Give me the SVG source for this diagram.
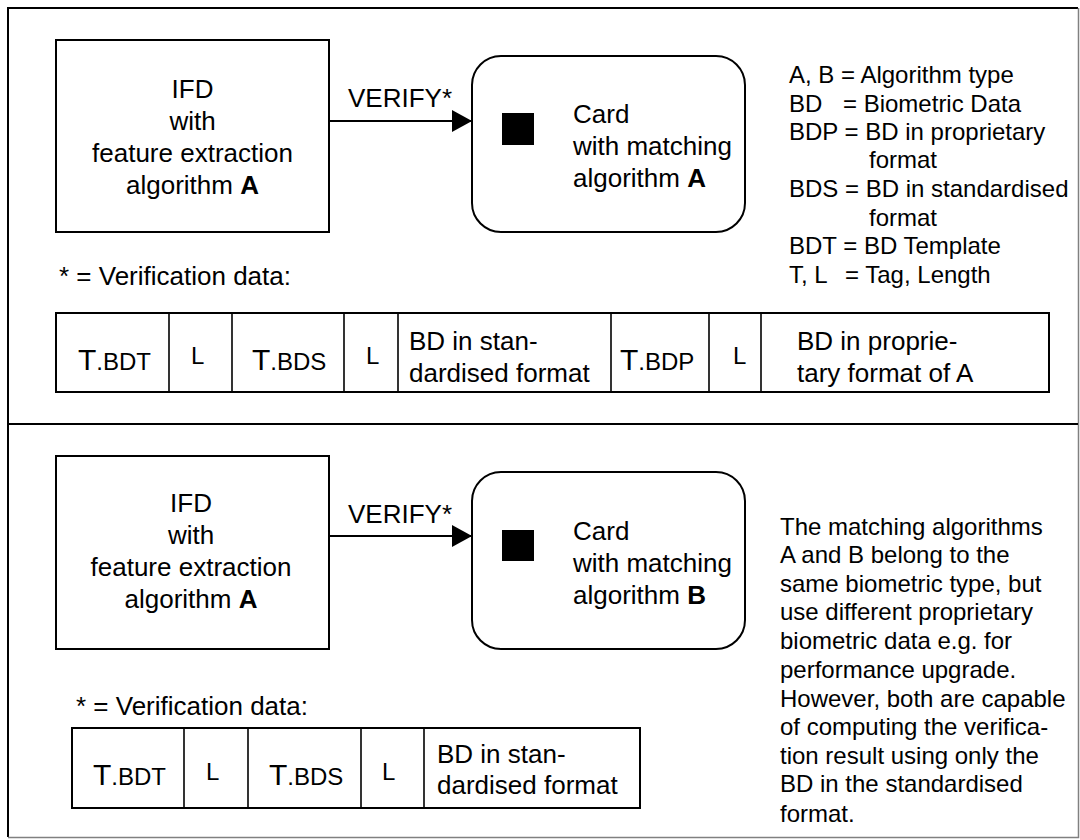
<svg xmlns="http://www.w3.org/2000/svg" width="1080" height="840" viewBox="0 0 1080 840">
<defs>
<style>
text{font-family:"Liberation Sans",Arial,sans-serif;fill:#000}
.t26{font-size:26px}
.t24{font-size:24px}
.mid{text-anchor:middle}
.box{fill:#fff;stroke:#000;stroke-width:2}
.cell{fill:none;stroke:#000;stroke-width:2}
.div{stroke:#000;stroke-width:1.6}
.b{font-weight:bold}
.bigT{font-size:30px}
.small{font-size:24px}
</style>
<marker id="arr" viewBox="0 0 20 22" refX="20" refY="11" markerWidth="20" markerHeight="22" markerUnits="userSpaceOnUse" orient="auto">
<path d="M0,0 L20,11 L0,22 Z" fill="#000"/>
</marker>
</defs>
<rect x="0" y="0" width="1080" height="840" fill="#fff"/>
<g id="frame">
<path d="M8,837 L8,8 L1078,8" fill="none" stroke="#000" stroke-width="2"/>
<path d="M1078.5,8 L1078.5,837.5 L8,837.5" fill="none" stroke="#808080" stroke-width="1.5"/>
<line x1="8" y1="424" x2="1078" y2="424" stroke="#000" stroke-width="2"/>
</g>

<g id="connectors">
<line x1="329" y1="121" x2="472" y2="121" stroke="#000" stroke-width="2" marker-end="url(#arr)"/>
<line x1="329" y1="536" x2="472" y2="536" stroke="#000" stroke-width="2" marker-end="url(#arr)"/>
<text class="t26" x="348" y="107">VERIFY*</text>
<text class="t26" x="348" y="523">VERIFY*</text>
</g>

<g id="ifd-top">
<rect class="box" x="56" y="40" width="273" height="192"/>
<text class="t26 mid" x="192.5" y="98">IFD</text>
<text class="t26 mid" x="192.5" y="130">with</text>
<text class="t26 mid" x="192.5" y="162">feature extraction</text>
<text class="t26 mid" x="192.5" y="194">algorithm <tspan class="b">A</tspan></text>
</g>

<g id="card-top">
<rect class="box" x="472" y="56" width="273" height="176" rx="29" ry="29"/>
<rect x="502" y="113" width="32" height="32" fill="#000"/>
<text class="t26" x="573" y="123">Card</text>
<text class="t26" x="573" y="155">with matching</text>
<text class="t26" x="573" y="187">algorithm <tspan class="b">A</tspan></text>
</g>

<g id="legend">
<text class="t24" x="789" y="83">A, B = Algorithm type</text>
<text class="t24" x="789" y="112">BD<tspan x="843">= Biometric Data</tspan></text>
<text class="t24" x="789" y="140">BDP = BD in proprietary</text>
<text class="t24" x="869" y="168">format</text>
<text class="t24" x="789" y="197">BDS = BD in standardised</text>
<text class="t24" x="869" y="226">format</text>
<text class="t24" x="789" y="254">BDT = BD Template</text>
<text class="t24" x="789" y="283">T, L<tspan x="845">= Tag, Length</tspan></text>
</g>

<g id="verif-label-top">
<text class="t26" x="59" y="285">* = Verification data:</text>
</g>

<g id="table-top">
<rect class="cell" x="56" y="313" width="993" height="79"/>
<line class="div" x1="169" y1="313" x2="169" y2="392"/>
<line class="div" x1="232" y1="313" x2="232" y2="392"/>
<line class="div" x1="344" y1="313" x2="344" y2="392"/>
<line class="div" x1="398" y1="313" x2="398" y2="392"/>
<line class="div" x1="611" y1="313" x2="611" y2="392"/>
<line class="div" x1="709" y1="313" x2="709" y2="392"/>
<line class="div" x1="761" y1="313" x2="761" y2="392"/>
<text x="78" y="370"><tspan class="bigT">T</tspan><tspan class="small">.BDT</tspan></text>
<text class="small" x="191" y="364">L</text>
<text x="252" y="370"><tspan class="bigT">T</tspan><tspan class="small">.BDS</tspan></text>
<text class="small" x="366" y="364">L</text>
<text class="t26" x="409" y="350">BD in stan-</text>
<text class="t26" x="409" y="382">dardised format</text>
<text x="620" y="370"><tspan class="bigT">T</tspan><tspan class="small">.BDP</tspan></text>
<text class="small" x="733" y="364">L</text>
<text class="t26" x="797" y="350">BD in proprie-</text>
<text class="t26" x="797" y="382">tary format of A</text>
</g>

<g id="ifd-bottom">
<rect class="box" x="56" y="456" width="273" height="193"/>
<text class="t26 mid" x="191" y="512">IFD</text>
<text class="t26 mid" x="191" y="544">with</text>
<text class="t26 mid" x="191" y="576">feature extraction</text>
<text class="t26 mid" x="191" y="608">algorithm <tspan class="b">A</tspan></text>
</g>

<g id="card-bottom">
<rect class="box" x="472" y="472" width="273" height="177" rx="29" ry="29"/>
<rect x="502" y="530" width="32" height="31" fill="#000"/>
<text class="t26" x="573" y="540">Card</text>
<text class="t26" x="573" y="572">with matching</text>
<text class="t26" x="573" y="604">algorithm <tspan class="b">B</tspan></text>
</g>

<g id="note">
<text class="t24" x="780" y="535">The matching algorithms</text>
<text class="t24" x="780" y="563">A and B belong to the</text>
<text class="t24" x="780" y="592">same biometric type, but</text>
<text class="t24" x="780" y="620">use different proprietary</text>
<text class="t24" x="780" y="649">biometric data e.g. for</text>
<text class="t24" x="780" y="678">performance upgrade.</text>
<text class="t24" x="780" y="707">However, both are capable</text>
<text class="t24" x="780" y="735">of computing the verifica-</text>
<text class="t24" x="780" y="764">tion result using only the</text>
<text class="t24" x="780" y="792">BD in the standardised</text>
<text class="t24" x="780" y="822">format.</text>
</g>

<g id="verif-label-bottom">
<text class="t26" x="76" y="715">* = Verification data:</text>
</g>

<g id="table-bottom">
<rect class="cell" x="72" y="728" width="568" height="80"/>
<line class="div" x1="184" y1="728" x2="184" y2="808"/>
<line class="div" x1="248" y1="728" x2="248" y2="808"/>
<line class="div" x1="361" y1="728" x2="361" y2="808"/>
<line class="div" x1="424" y1="728" x2="424" y2="808"/>
<text x="93" y="785"><tspan class="bigT">T</tspan><tspan class="small">.BDT</tspan></text>
<text class="small" x="206" y="780">L</text>
<text x="269" y="785"><tspan class="bigT">T</tspan><tspan class="small">.BDS</tspan></text>
<text class="small" x="382" y="780">L</text>
<text class="t26" x="437" y="763">BD in stan-</text>
<text class="t26" x="437" y="794">dardised format</text>
</g>
</svg>
